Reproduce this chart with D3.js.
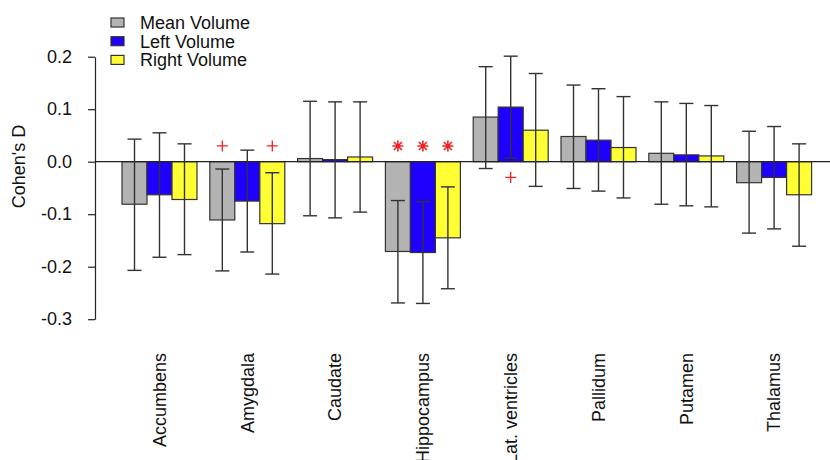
<!DOCTYPE html>
<html>
<head>
<meta charset="utf-8">
<script src="https://cdn.jsdelivr.net/npm/d3@7"></script>
<style>
  body { margin: 0; background: #fff; }
  text { font-family: "Liberation Sans", Arial, sans-serif; fill: #111; }
</style>
</head>
<body>
<div id="chart"></div>
<script>
// regions and series
var regions = ["Accumbens", "Amygdala", "Caudate", "Hippocampus", "Lat. ventricles", "Pallidum", "Putamen", "Thalamus"];
var seriesNames = ["Mean Volume", "Left Volume", "Right Volume"];
var seriesColors = ["#b3b3b3", "#1f00ff", "#ffff33"];

// Cohen's D per region
var meanD  = [-0.081, -0.111, 0.006, -0.171, 0.085, 0.048, 0.016, -0.040];
var leftD  = [-0.063, -0.075, 0.004, -0.173, 0.104, 0.041, 0.013, -0.030];
var rightD = [-0.072, -0.118, 0.009, -0.145, 0.060, 0.027, 0.011, -0.063];

// confidence interval ends
var meanLo  = [-0.207, -0.208, -0.103, -0.269, -0.013, -0.051, -0.081, -0.136];
var meanHi  = [ 0.043, -0.014,  0.115, -0.074,  0.181,  0.146,  0.114,  0.058];
var leftLo  = [-0.182, -0.172, -0.107, -0.270,  0.007, -0.056, -0.084, -0.128];
var leftHi  = [ 0.055,  0.022,  0.114, -0.076,  0.201,  0.139,  0.111,  0.067];
var rightLo = [-0.177, -0.214, -0.096, -0.242, -0.047, -0.069, -0.086, -0.161];
var rightHi = [ 0.034, -0.021,  0.114, -0.048,  0.168,  0.124,  0.107,  0.034];

// significance marks: region index, series index, symbol, y value
var markRegion = [1, 1, 3, 3, 3, 4];
var markSeries = [0, 2, 0, 1, 2, 1];
var markSymbol = ["plus", "plus", "star", "star", "star", "plus"];
var markY      = [0.030, 0.030, 0.030, 0.030, 0.030, -0.030];

var yTicks = [-0.3, -0.2, -0.1, 0.0, 0.1, 0.2];
var yTickLabels = ["-0.3", "-0.2", "-0.1", "0.0", "0.1", "0.2"];

var values = [meanD, leftD, rightD];
var lows = [meanLo, leftLo, rightLo];
var highs = [meanHi, leftHi, rightHi];

var data = [];
regions.forEach(function(r, i) {
    seriesNames.forEach(function(s, j) {
        data.push({ region: r, series: s, si: j, v: values[j][i], lo: lows[j][i], hi: highs[j][i] });
    });
});

var width = 830, height = 460;

var svg = d3.select("#chart").append("svg")
    .attr("width", width)
    .attr("height", height);

// scales
var x0 = d3.scaleBand()
    .domain(regions)
    .range([115.6, 818])
    .paddingInner(0.146)
    .paddingOuter(0.073);

var x1 = d3.scaleBand()
    .domain(seriesNames)
    .range([0, x0.bandwidth()]);

var y = d3.scaleLinear()
    .domain([-0.3, 0.2])
    .range([319.2, 56.7]);

var color = d3.scaleOrdinal().domain(seriesNames).range(seriesColors);

// y axis
var yAxis = d3.axisLeft(y)
    .tickValues(yTicks)
    .tickSize(7)
    .tickSizeOuter(0)
    .tickPadding(16)
    .tickFormat(function(d, i) { return yTickLabels[i]; });

var gy = svg.append("g")
    .attr("transform", "translate(95,0)")
    .call(yAxis);
gy.selectAll("path, line").attr("stroke", "#222").attr("stroke-width", 1.2);
gy.selectAll("text")
    .style("font-family", "'Liberation Sans', Arial, sans-serif")
    .style("font-size", "18px")
    .attr("fill", "#111");

svg.append("text")
    .attr("transform", "translate(25," + 166.5 + ") rotate(-90)")
    .style("text-anchor", "middle")
    .style("font-size", "18px")
    .text("Cohen's D");

// bars
var bars = svg.append("g");
bars.selectAll("rect")
    .data(data)
    .enter().append("rect")
    .attr("x", function(d) { return x0(d.region) + x1(d.series); })
    .attr("y", function(d) { return y(Math.max(0, d.v)); })
    .attr("width", x1.bandwidth())
    .attr("height", function(d) { return Math.abs(y(d.v) - y(0)); })
    .attr("fill", function(d) { return color(d.series); })
    .attr("stroke", "#333")
    .attr("stroke-width", 1.2);

// zero line
svg.append("line")
    .attr("x1", 95).attr("x2", width)
    .attr("y1", y(0)).attr("y2", y(0))
    .attr("stroke", "#222")
    .attr("stroke-width", 1.2);

// error bars
var cap = 7;
var err = svg.append("g").attr("stroke", "#333").attr("stroke-width", 1.4);
var cx = function(d) { return x0(d.region) + x1(d.series) + x1.bandwidth() / 2; };
err.selectAll(".stem").data(data).enter().append("line")
    .attr("class", "stem")
    .attr("x1", cx).attr("x2", cx)
    .attr("y1", function(d) { return y(d.lo); })
    .attr("y2", function(d) { return y(d.hi); });
err.selectAll(".capLo").data(data).enter().append("line")
    .attr("class", "capLo")
    .attr("x1", function(d) { return cx(d) - cap; })
    .attr("x2", function(d) { return cx(d) + cap; })
    .attr("y1", function(d) { return y(d.lo); })
    .attr("y2", function(d) { return y(d.lo); });
err.selectAll(".capHi").data(data).enter().append("line")
    .attr("class", "capHi")
    .attr("x1", function(d) { return cx(d) - cap; })
    .attr("x2", function(d) { return cx(d) + cap; })
    .attr("y1", function(d) { return y(d.hi); })
    .attr("y2", function(d) { return y(d.hi); });

// significance marks
var marks = markRegion.map(function(r, k) {
    return { region: regions[r], series: seriesNames[markSeries[k]], sym: markSymbol[k], v: markY[k] };
});
function markPath(sym) {
    var p = d3.path(), r = 5.5, q = 4;
    p.moveTo(-r, 0); p.lineTo(r, 0);
    p.moveTo(0, -r); p.lineTo(0, r);
    if (sym === "star") {
        p.moveTo(-q, -q); p.lineTo(q, q);
        p.moveTo(-q, q); p.lineTo(q, -q);
    }
    return p.toString();
}
svg.append("g").selectAll("path")
    .data(marks)
    .enter().append("path")
    .attr("transform", function(d) { return "translate(" + cx(d) + "," + y(d.v) + ")"; })
    .attr("d", function(d) { return markPath(d.sym); })
    .attr("fill", "none")
    .attr("stroke", "#f02020")
    .attr("stroke-width", function(d) { return d.sym === "star" ? 1.6 : 1.3; });

// region labels
svg.append("g").selectAll("text")
    .data(regions)
    .enter().append("text")
    .attr("transform", function(d) { return "translate(" + (x0(d) + x0.bandwidth() / 2) + ",353) rotate(-90)"; })
    .attr("dy", "0.35em")
    .style("text-anchor", "end")
    .style("font-size", "18px")
    .text(function(d) { return d; });

// legend
var legend = svg.append("g").selectAll("g")
    .data(seriesNames)
    .enter().append("g")
    .attr("transform", function(d, i) { return "translate(111," + (22.5 + i * 18.7) + ")"; });
legend.append("rect")
    .attr("x", 0).attr("y", -4.5)
    .attr("width", 13).attr("height", 9)
    .attr("fill", function(d) { return color(d); })
    .attr("stroke", "#333")
    .attr("stroke-width", 1.2);
legend.append("text")
    .attr("x", 29).attr("y", 6.5)
    .style("font-size", "18px")
    .text(function(d) { return d; });
</script>
</body>
</html>
